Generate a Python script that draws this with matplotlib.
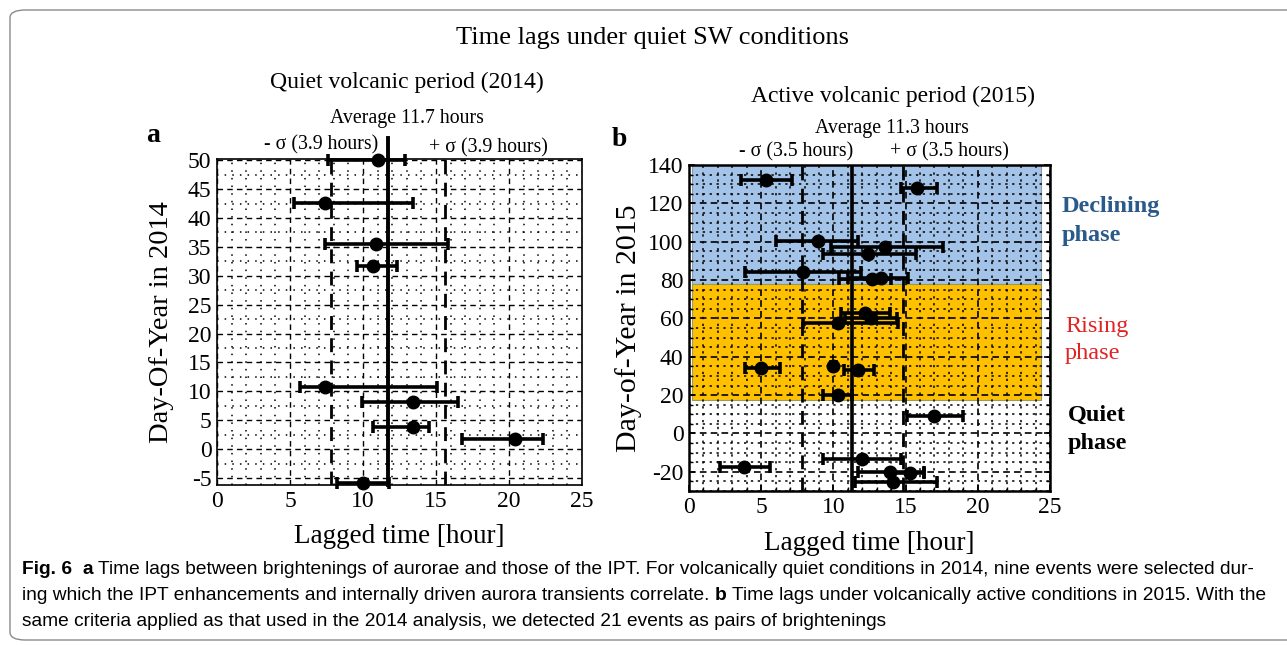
import numpy as np
import matplotlib.pyplot as plt
from matplotlib.patches import FancyBboxPatch
from matplotlib.ticker import MultipleLocator

W, H = 1287, 645

# panel a : quiet volcanic period (2014)
a_lag = [11.0, 7.4, 10.9, 10.7, 7.4, 13.4, 13.4, 20.4, 10.0]
a_doy = [50.0, 42.6, 35.5, 31.7, 10.8, 8.2, 3.8, 1.8, -5.9]
a_lo = [7.6, 5.3, 7.4, 9.6, 5.7, 9.9, 10.7, 16.8, 8.2]
a_hi = [12.9, 13.4, 15.8, 12.35, 15.1, 16.5, 14.5, 22.3, 11.8]
a_avg, a_sig = 11.7, 3.9

# panel b : active volcanic period (2015)
b_lag = [5.3, 15.8, 8.9, 13.6, 12.4, 7.9, 12.7, 13.3, 12.2, 12.6, 10.3,
         5.0, 10.0, 11.7, 10.3, 17.0, 3.8, 12.0, 13.9, 15.3, 14.1]
b_doy = [132, 128, 100.5, 97.3, 93.4, 84.3, 80.3, 81, 63, 60, 57.4,
         34.2, 35.3, 33, 20.3, 9, -17.4, -13.4, -20, -20.5, -25.2]
b_lo = [3.6, 14.7, 6.0, 9.8, 9.3, 3.9, 10.4, 11.0, 10.5, 10.8, 7.9,
        3.9, 9.8, 10.7, 9.3, 15.1, 2.15, 9.3, 11.7, 14.0, 11.5]
b_hi = [7.1, 17.2, 11.7, 17.6, 15.7, 11.9, 14.0, 15.2, 13.9, 14.4, 14.5,
        6.3, 10.2, 12.8, 11.3, 19.0, 5.6, 14.7, 16.3, 16.3, 17.15]
b_avg, b_sig = 11.3, 3.5
b_minus, b_plus = 7.8, 14.8
declining = (78, 140)
rising = (17.4, 78)

plt.rcParams['font.family'] = ['Liberation Serif', 'DejaVu Serif']
plt.rcParams['axes.unicode_minus'] = False


def fx(px):
    return px / W


def fy(py):
    return 1 - py / H


fig = plt.figure(figsize=(W / 100, H / 100), dpi=100)

# rounded frame around the figure
fig.patches.append(FancyBboxPatch((fx(10), fy(640)), 1.2, fy(10) - fy(640),
                                  boxstyle="round,pad=0,rounding_size=0.012",
                                  transform=fig.transFigure, fill=False,
                                  ec='#8a8a8a', lw=1.0))

fig.text(fx(652), fy(38), "Time lags under quiet SW conditions", ha='center', va='center', fontsize=19)


def errbars(ax, lag, doy, lo, hi):
    lag = np.array(lag)
    xerr = [lag - np.array(lo), np.array(hi) - lag]
    ax.errorbar(lag, doy, xerr=xerr, fmt='o', color='black', ms=9, elinewidth=2.6,
                capsize=4, capthick=2.6, clip_on=False, zorder=5)


# ---- panel a ----
ax1 = fig.add_axes([fx(217), fy(485), fx(582) - fx(217), fy(159) - fy(485)])
ax1.set_xlim(0, 25)
ax1.set_ylim(-6.2, 50.2)
ax1.xaxis.set_major_locator(MultipleLocator(5))
ax1.yaxis.set_major_locator(MultipleLocator(5))
ax1.xaxis.set_minor_locator(MultipleLocator(1))
ax1.yaxis.set_minor_locator(MultipleLocator(2.5))
ax1.grid(which='major', ls=(0, (4, 3)), color='black', lw=1.0)
ax1.grid(which='minor', ls=(0, (1, 4)), color='black', lw=1.1)
ax1.tick_params(which='both', direction='in', length=0, labelsize=17, pad=4)
for s in ax1.spines.values():
    s.set_linewidth(1.2)
ax1.plot([a_avg, a_avg], [-6.2, 53.8], color='black', lw=2.8, clip_on=False, zorder=4)
ax1.axvline(a_avg - a_sig, color='black', lw=2, ls=(0, (5, 3)), zorder=4)
ax1.axvline(a_avg + a_sig, color='black', lw=2, ls=(0, (5, 3)), zorder=4)
errbars(ax1, a_lag, a_doy, a_lo, a_hi)
ax1.set_xlabel("Lagged time [hour]", fontsize=19.5, labelpad=9)
ax1.set_ylabel("Day-Of-Year in 2014", fontsize=20.5, labelpad=10)

fig.text(fx(407), fy(82), "Quiet volcanic period (2014)", ha='center', va='center', fontsize=17)
fig.text(fx(407), fy(118), "Average %.1f hours" % a_avg, ha='center', va='center', fontsize=14.3)
fig.text(fx(321), fy(145), "- σ (%.1f hours)" % a_sig, ha='center', va='center', fontsize=14.3)
fig.text(fx(488), fy(148), "+ σ (%.1f hours)" % a_sig, ha='center', va='center', fontsize=14.3)
fig.text(fx(153), fy(136), "a", ha='center', va='center', fontsize=20, fontweight='bold')

# ---- panel b ----
ax2 = fig.add_axes([fx(689), fy(491), fx(1050) - fx(689), fy(165) - fy(491)])
ax2.set_xlim(0, 25)
ax2.set_ylim(-30, 140)
ax2.fill_betweenx(declining, 0.2, 24.4, color='#a3c3e8', ec='#8c9aa8', lw=0.8, zorder=0)
ax2.fill_betweenx(rising, 0.2, 24.4, color='#ffc000', ec='#9a9a60', lw=0.8, zorder=0)
ax2.xaxis.set_major_locator(MultipleLocator(5))
ax2.yaxis.set_major_locator(MultipleLocator(20))
ax2.xaxis.set_minor_locator(MultipleLocator(1))
ax2.yaxis.set_minor_locator(MultipleLocator(5))
ax2.grid(which='major', ls=(0, (4, 2.5)), color='black', lw=1.2)
ax2.grid(which='minor', ls=(0, (1.5, 3)), color='black', lw=1.1)
ax2.set_axisbelow(False)
ax2.tick_params(which='both', direction='in', right=True, labelsize=17, pad=4)
ax2.tick_params(which='major', length=4, width=1.2)
ax2.tick_params(which='minor', length=3, width=1)
for s in ax2.spines.values():
    s.set_linewidth(1.8)
ax2.axvline(b_avg, color='black', lw=2.6, zorder=4)
ax2.axvline(b_minus, color='black', lw=2, ls=(0, (5, 3)), zorder=4)
ax2.axvline(b_plus, color='black', lw=2, ls=(0, (5, 3)), zorder=4)
errbars(ax2, b_lag, b_doy, b_lo, b_hi)
ax2.set_xlabel("Lagged time [hour]", fontsize=19.5, labelpad=10)
ax2.set_ylabel("Day-of-Year in 2015", fontsize=21.5, labelpad=4)

fig.text(fx(893), fy(96), "Active volcanic period (2015)", ha='center', va='center', fontsize=17)
fig.text(fx(892), fy(129), "Average %.1f hours" % b_avg, ha='center', va='center', fontsize=14.3)
fig.text(fx(796), fy(152), "- σ (%.1f hours)" % b_sig, ha='center', va='center', fontsize=14.3)
fig.text(fx(949), fy(152), "+ σ (%.1f hours)" % b_sig, ha='center', va='center', fontsize=14.3)
fig.text(fx(619), fy(140), "b", ha='center', va='center', fontsize=20, fontweight='bold')

fig.text(fx(1062), fy(221), "Declining\nphase", ha='left', va='center', fontsize=17.5,
         fontweight='bold', color='#2a5a8a', linespacing=1.45)
fig.text(fx(1065), fy(340), "Rising\nphase", ha='left', va='center', fontsize=17.5,
         color='#e02424', linespacing=1.4)
fig.text(fx(1068), fy(429), "Quiet\nphase", ha='left', va='center', fontsize=17.5,
         fontweight='bold', color='black', linespacing=1.45)

# ---- caption ----
cap_font = ['Liberation Sans', 'DejaVu Sans']
renderer = fig.canvas.get_renderer()

line1 = [("Fig. 6", True), ("  ", False), ("a", True),
         (" Time lags between brightenings of aurorae and those of the IPT. For volcanically quiet conditions in 2014, nine events were selected dur-", False)]
line2 = [("ing which the IPT enhancements and internally driven aurora transients correlate. ", False),
         ("b", True),
         (" Time lags under volcanically active conditions in 2015. With the", False)]
line3 = [("same criteria applied as that used in the 2014 analysis, we detected 21 events as pairs of brightenings", False)]


def runs(x0, py, parts, size):
    x = fx(x0)
    for txt, bold in parts:
        t = fig.text(x, fy(py), txt, ha='left', va='center', fontsize=size, family=cap_font,
                     fontweight='bold' if bold else 'normal')
        x += t.get_window_extent(renderer).width / W
    return x


# size the caption so that its first line spans the frame like in the figure
probe = [fig.text(0, 0, txt, fontsize=10, family=cap_font, fontweight='bold' if b else 'normal')
         for txt, b in line1]
wsum = sum(t.get_window_extent(renderer).width for t in probe)
for t in probe:
    t.remove()
cs = 10 * 1240 / wsum

runs(22, 570, line1, cs)
runs(22, 596, line2, cs)
runs(22, 622, line3, cs)

fig.savefig("out.png", dpi=100)
